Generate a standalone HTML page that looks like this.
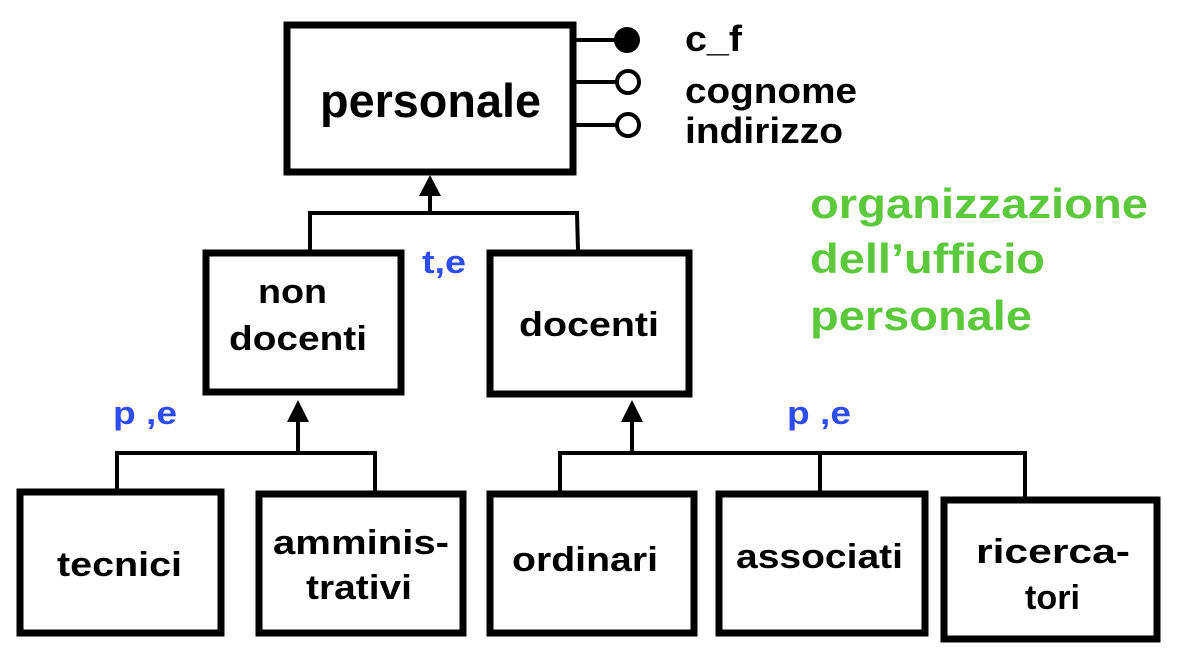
<!DOCTYPE html>
<html><head><meta charset="utf-8"><style>
body{margin:0;background:#fff;}
svg text{font-family:"Liberation Sans",Arial,sans-serif;font-weight:bold;}
</style></head><body>
<svg width="1184" height="656" viewBox="0 0 1184 656" xmlns="http://www.w3.org/2000/svg">
<g fill="none" stroke="#000" stroke-width="7">
<rect x="287" y="25" width="286" height="147"/>
<rect x="206" y="253" width="195" height="139"/>
<rect x="490" y="253" width="199" height="141"/>
<rect x="20" y="492" width="201" height="141"/>
<rect x="259" y="494" width="204" height="139"/>
<rect x="490" y="494" width="204" height="139"/>
<rect x="719" y="494" width="206" height="139"/>
<rect x="944" y="500" width="213" height="139"/>
</g>
<g stroke="#000" stroke-width="4" fill="none">
<line x1="576" y1="40" x2="616" y2="40"/>
<line x1="576" y1="82" x2="616" y2="82"/>
<line x1="576" y1="125" x2="616" y2="125"/>
<polyline points="310,250 310,213 577,213 578,250"/>
<line x1="430" y1="193" x2="430" y2="213"/>
<polyline points="117,489 117,453 375,453 375,491"/>
<line x1="298" y1="420" x2="298" y2="453"/>
<polyline points="560,491 560,453 1025,453 1025,497"/>
<line x1="820" y1="453" x2="820" y2="491"/>
<line x1="632" y1="420" x2="632" y2="453"/>
</g>
<circle cx="627" cy="40" r="13" fill="#000"/>
<circle cx="628" cy="82" r="11" fill="#fff" stroke="#000" stroke-width="4"/>
<circle cx="628" cy="125" r="11" fill="#fff" stroke="#000" stroke-width="4"/>
<polygon points="430,175 419,196 441,196" fill="#000"/>
<polygon points="298,400 287,422 309,422" fill="#000"/>
<polygon points="632,400 621,422 643,422" fill="#000"/>
<g fill="#000" font-size="34" lengthAdjust="spacingAndGlyphs">
<text x="320" y="117" font-size="47" textLength="221" lengthAdjust="spacingAndGlyphs">personale</text>
<text x="685" y="51" font-size="36" textLength="57" lengthAdjust="spacingAndGlyphs">c_f</text>
<text x="685" y="103" font-size="36" textLength="172" lengthAdjust="spacingAndGlyphs">cognome</text>
<text x="685" y="143" font-size="36" textLength="158" lengthAdjust="spacingAndGlyphs">indirizzo</text>
<text x="258" y="303" textLength="69" lengthAdjust="spacingAndGlyphs">non</text>
<text x="229" y="350" textLength="138" lengthAdjust="spacingAndGlyphs">docenti</text>
<text x="519" y="336" textLength="140" lengthAdjust="spacingAndGlyphs">docenti</text>
<text x="57" y="576" textLength="125" lengthAdjust="spacingAndGlyphs">tecnici</text>
<text x="273" y="554" textLength="176" lengthAdjust="spacingAndGlyphs">amminis-</text>
<text x="306" y="599" textLength="106" lengthAdjust="spacingAndGlyphs">trativi</text>
<text x="512" y="571" textLength="146" lengthAdjust="spacingAndGlyphs">ordinari</text>
<text x="736" y="568" textLength="167" lengthAdjust="spacingAndGlyphs">associati</text>
<text x="976" y="563" textLength="154" lengthAdjust="spacingAndGlyphs">ricerca-</text>
<text x="1025" y="609" textLength="55" lengthAdjust="spacingAndGlyphs">tori</text>
</g>
<g fill="#2d4cf2" font-size="32">
<text x="422" y="273" textLength="44" lengthAdjust="spacingAndGlyphs">t,e</text>
<text x="113" y="424" textLength="64" lengthAdjust="spacingAndGlyphs">p ,e</text>
<text x="787" y="424" textLength="64" lengthAdjust="spacingAndGlyphs">p ,e</text>
</g>
<g fill="#5cc83c" font-size="42">
<text x="810" y="218" textLength="338" lengthAdjust="spacingAndGlyphs">organizzazione</text>
<text x="810" y="273" textLength="235" lengthAdjust="spacingAndGlyphs">dell’ufficio</text>
<text x="810" y="330" textLength="222" lengthAdjust="spacingAndGlyphs">personale</text>
</g>
</svg>
</body></html>
